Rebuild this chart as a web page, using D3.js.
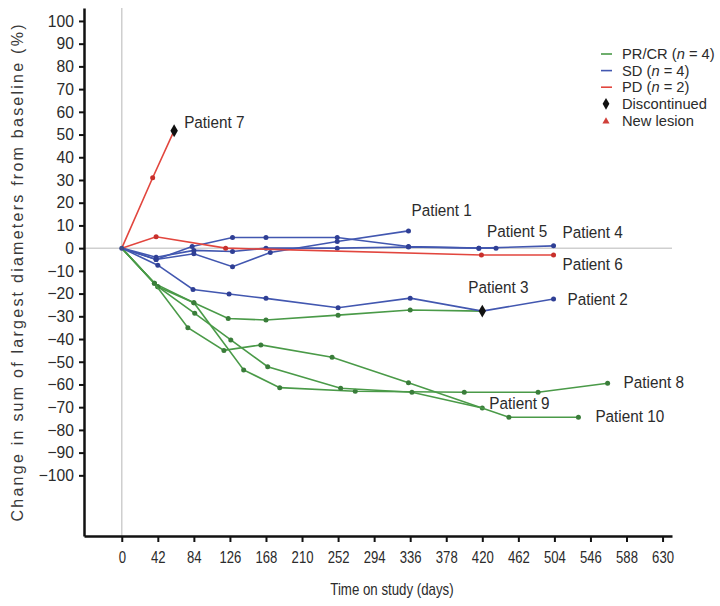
<!DOCTYPE html>
<html>
<head>
<meta charset="utf-8">
<script src="https://cdn.jsdelivr.net/npm/d3@7"></script>
<style>
  body { margin: 0; background: #fff; }
  svg text { font-family: 'Liberation Sans Narrow', 'Liberation Sans', Arial, sans-serif; fill: #2b2b2b; }
</style>
</head>
<body>
<div id="chart"></div>
<script>
const xTicks = d3.range(0, 631, 42)
const yTicks = d3.range(-100, 101, 10)
const groups = ['PR/CR', 'SD', 'PD']
const groupCounts = [4, 4, 2]

// [day, % change from baseline]
const patient1 = [[0, 0], [40, -5], [84, -2.5], [129, -8.2], [173, -1.9], [251, 2.9], [334, 7.6]]
const patient2 = [[0, 0], [42, -7.5], [83, -18.2], [125, -20.2], [168, -22.1], [252, -26.2], [336, -22], [420, -27.7], [503, -22.4]]
const patient3 = [[0, 0], [38, -15.5], [84, -24], [124, -31], [168, -31.6], [252, -29.5], [336, -27.2], [420, -27.7]]
const patient4 = [[0, 0], [40, -5], [82, 0.7], [129, 4.7], [168, 4.7], [251, 4.7], [334, 0.7], [416, 0], [503, 1]]
const patient5 = [[0, 0], [40, -4], [84, -1], [129, -1.5], [168, 0], [251, 0], [334, 0.5], [416, 0], [436, 0]]
const patient6 = [[0, 0], [40, 5], [121, 0], [419, -3], [503, -3]]
const patient7 = [[0, 0], [36, 31], [61, 51.7]]
const patient8 = [[0, 0], [42, -17], [84, -24], [142, -53.6], [184, -61.4], [272, -63], [399, -63.4], [485, -63.4], [566, -59.5]]
const patient9 = [[0, 0], [42, -17], [85, -28.7], [127, -40.4], [170, -52.2], [255, -61.7], [338, -63.4], [420, -70.4]]
const patient10 = [[0, 0], [38, -15.5], [77, -35], [119, -45], [162, -42.6], [245, -48], [334, -59.2], [451, -74.4], [532, -74.4]]

const series = [
  { name: 'Patient 3', group: 'PR/CR', points: patient3, stopped: true },
  { name: 'Patient 8', group: 'PR/CR', points: patient8 },
  { name: 'Patient 9', group: 'PR/CR', points: patient9 },
  { name: 'Patient 10', group: 'PR/CR', points: patient10 },
  { name: 'Patient 1', group: 'SD', points: patient1 },
  { name: 'Patient 2', group: 'SD', points: patient2 },
  { name: 'Patient 4', group: 'SD', points: patient4 },
  { name: 'Patient 5', group: 'SD', points: patient5 },
  { name: 'Patient 6', group: 'PD', points: patient6 },
  { name: 'Patient 7', group: 'PD', points: patient7, stopped: true },
]

// label position relative to last point, px
const labelNudge = {
  'Patient 1': [3, -15], 'Patient 2': [14, 6], 'Patient 3': [-14, -18],
  'Patient 4': [9, -8], 'Patient 5': [-9, -11], 'Patient 6': [9, 15],
  'Patient 7': [10, -3], 'Patient 8': [16, 5], 'Patient 9': [7, 1],
  'Patient 10': [17, 5],
}

const lineColor = { 'PR/CR': '#4a9a48', SD: '#4257b0', PD: '#e2463e' }
const dotColor = { 'PR/CR': '#3a7d3a', SD: '#2f3f95', PD: '#c8302c' }

// no narrow face installed, so squeeze text horizontally
function squeeze (sel, k) {
  sel.each(function () {
    const t = d3.select(this)
    const x0 = +t.attr('x') || 0
    t.attr('x', x0 / k).attr('transform', `scale(${k},1)`)
  })
}

const svg = d3.select('#chart')
  .append('svg')
  .attr('width', 720)
  .attr('height', 606)

const x = d3.scaleLinear().domain([-44, 641]).range([84, 672])
const y = d3.scaleLinear().domain([-126.7, 105.7]).range([536, 8])

// reference lines
svg.append('line')
  .attr('x1', x(0)).attr('x2', x(0))
  .attr('y1', y.range()[1]).attr('y2', y.range()[0])
  .attr('stroke', '#cfcfcf').attr('stroke-width', 1.5)
svg.append('line')
  .attr('x1', x.range()[0]).attr('x2', x.range()[1])
  .attr('y1', y(0)).attr('y2', y(0))
  .attr('stroke', '#cfcfcf').attr('stroke-width', 1.5)

// axes
const yAxis = svg.append('g')
  .attr('transform', `translate(${x.range()[0]},0)`)
  .call(d3.axisLeft(y).tickValues(yTicks).tickSize(5).tickPadding(5).tickSizeOuter(0))
yAxis.selectAll('text').style('font-size', '16.5px')
squeeze(yAxis.selectAll('text'), 0.95)

const xAxis = svg.append('g')
  .attr('transform', `translate(0,${y.range()[0]})`)
  .call(d3.axisBottom(x).tickValues(xTicks).tickSize(6).tickPadding(10).tickSizeOuter(0))
xAxis.selectAll('text').style('font-size', '16px')
squeeze(xAxis.selectAll('text'), 0.82)

svg.selectAll('.domain').attr('stroke', '#111').attr('stroke-width', 2.5)
svg.selectAll('.tick line').attr('stroke', '#111').attr('stroke-width', 2)

const xTitle = svg.append('text')
  .attr('x', 392).attr('y', 595)
  .attr('text-anchor', 'middle')
  .style('font-size', '16px')
  .text('Time on study (days)')
squeeze(xTitle, 0.83)

svg.append('text')
  .attr('transform', 'translate(23,273) rotate(-90)')
  .attr('text-anchor', 'middle')
  .attr('textLength', 497)
  .attr('lengthAdjust', 'spacing')
  .style('font-family', "'Liberation Sans', Arial, sans-serif")
  .style('font-size', '16px')
  .style('fill', '#3a3a3a')
  .text('Change in sum of largest diameters from baseline (%)')

// lines
const line = d3.line().x(d => x(d[0])).y(d => y(d[1]))
const drawOrder = ['PR/CR', 'SD', 'PD']
const plot = svg.append('g')

drawOrder.forEach(g => {
  series.filter(s => s.group === g).forEach(s => {
    plot.append('path')
      .datum(s.points)
      .attr('fill', 'none')
      .attr('stroke', lineColor[g])
      .attr('stroke-width', 1.6)
      .attr('d', line)
    const pts = s.stopped ? s.points.slice(1, -1) : s.points.slice(1)
    plot.selectAll(null)
      .data(pts)
      .enter()
      .append('circle')
      .attr('cx', d => x(d[0]))
      .attr('cy', d => y(d[1]))
      .attr('r', 2.5)
      .attr('fill', dotColor[g])
  })
})

// origin marker
plot.append('circle')
  .attr('cx', x(0)).attr('cy', y(0)).attr('r', 2.5).attr('fill', '#3b4a8a')

// discontinued markers
series.filter(s => s.stopped).forEach(s => {
  const last = s.points[s.points.length - 1]
  plot.append('path')
    .attr('d', d3.symbol(d3.symbolDiamond, 48))
    .attr('transform', `translate(${x(last[0])},${y(last[1])})`)
    .attr('fill', '#111')
})

// patient labels
series.forEach(s => {
  const last = s.points[s.points.length - 1]
  const [dx, dy] = labelNudge[s.name]
  const t = svg.append('text')
    .attr('x', x(last[0]) + dx)
    .attr('y', y(last[1]) + dy)
    .style('font-size', '17px')
    .text(s.name)
  squeeze(t, 0.9)
})

// legend
const rowGap = 16.6
const legend = svg.append('g').attr('transform', 'translate(601,54)')
groups.forEach((g, i) => {
  const row = legend.append('g').attr('transform', `translate(0,${i * rowGap})`)
  row.append('line')
    .attr('x1', 0).attr('x2', 11)
    .attr('stroke', lineColor[g]).attr('stroke-width', 1.6)
  const t = row.append('text')
    .attr('x', 21).attr('dy', '0.35em')
    .style('font-size', '14.7px')
  t.append('tspan').text(`${g} (`)
  t.append('tspan').style('font-style', 'italic').text('n')
  t.append('tspan').text(` = ${groupCounts[i]})`)
})
const disc = legend.append('g').attr('transform', `translate(0,${3 * rowGap})`)
disc.append('path')
  .attr('d', d3.symbol(d3.symbolDiamond, 40))
  .attr('transform', 'translate(5,0)')
  .attr('fill', '#111')
disc.append('text').attr('x', 21).attr('dy', '0.35em').style('font-size', '14.7px').text('Discontinued')

const lesion = legend.append('g').attr('transform', `translate(0,${4 * rowGap})`)
lesion.append('path')
  .attr('d', d3.symbol(d3.symbolTriangle, 22))
  .attr('transform', 'translate(5,1)')
  .attr('fill', '#d0403a')
lesion.append('text').attr('x', 21).attr('dy', '0.35em').style('font-size', '14.7px').text('New lesion')
</script>
</body>
</html>
